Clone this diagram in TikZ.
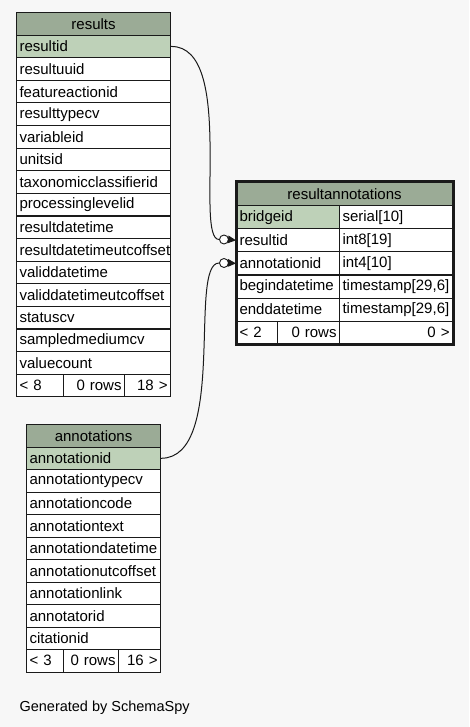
\documentclass[tikz,border=0pt]{standalone}
\usepackage{fontspec}
\setmainfont{Liberation Sans}
\usetikzlibrary{arrows.meta,fit}
\definecolor{scabeza}{HTML}{9BAB96}
\definecolor{sllave}{HTML}{BED1B8}
\definecolor{sfondo}{HTML}{F7F7F7}
\definecolor{slinea}{HTML}{1A1A1A}
\tikzset{
  celda/.style={rectangle, draw=slinea, fill=white, line width=1.1pt,
    anchor=north west, inner xsep=3pt, inner ysep=0pt, minimum height=22.6,
    align=left, font=\fontsize{15}{16}\selectfont},
  cabeza/.style={celda, fill=scabeza, align=center},
  llave/.style={celda, fill=sllave},
  pie/.style={celda, align=right},
  circulo/.style={circle, draw=slinea, fill=white, line width=0.9pt,
    minimum size=9, inner sep=0pt},
  conector/.style={draw=slinea, line width=1pt},
  punta/.style={-{Triangle[length=8pt,width=7.5pt]}, draw=slinea, line width=1pt},
}
\begin{document}
\begin{tikzpicture}[x=1pt,y=-1pt]
  \fill[sfondo] (0,0) rectangle (469,727);
  \useasboundingbox (0,0) rectangle (469,727);
  % results
  \node[cabeza, text width=148] (res-h) at (16,12) {results};
  \node[llave, text width=148] (res-1) at (16,34.6) {resultid};
  \foreach \nom [count=\i from 2] in {resultuuid, featureactionid, resulttypecv,
      variableid, unitsid, taxonomicclassifierid, processinglevelid, resultdatetime,
      resultdatetimeutcoffset, validdatetime, validdatetimeutcoffset, statuscv,
      sampledmediumcv, valuecount}
    \node[celda, text width=148] (res-\i) at (16,{12+22.6*\i}) {\nom};
  \node[celda, text width=41] (res-f1) at (16,373.6) {< 8};
  \node[pie, text width=55] (res-f2) at (63,373.6) {0 rows};
  \node[pie, text width=40] (res-f3) at (124,373.6) {18 >};
  % resultannotations
  \node[cabeza, text width=210, minimum height=23.1] (ra-h) at (236,182) {resultannotations};
  \node[llave, text width=97, minimum height=23.1] (ra-1) at (236,205.1) {bridgeid};
  \node[celda, text width=107, minimum height=23.1] (rt-1) at (339,205.1) {serial[10]};
  \foreach \nom/\tipo [count=\i from 2] in {resultid/int8[19], annotationid/int4[10],
      begindatetime/{timestamp[29,6]}, enddatetime/{timestamp[29,6]}} {
    \node[celda, text width=97, minimum height=23.1] (ra-\i) at (236,{182+23.1*\i}) {\nom};
    \node[celda, text width=107, minimum height=23.1] (rt-\i) at (339,{182+23.1*\i}) {\tipo};
  }
  \node[celda, text width=35, minimum height=23.1] (ra-f1) at (236,320.6) {< 2};
  \node[pie, text width=56, minimum height=23.1] (ra-f2) at (277,320.6) {0 rows};
  \node[pie, text width=107, minimum height=23.1] (ra-f3) at (339,320.6) {0 >};
  \node[draw=slinea, line width=3pt, inner sep=0pt, fit=(ra-h)(ra-f1)(ra-f3)] (ra) {};
  % annotations
  \node[cabeza, text width=128, minimum height=22.5] (an-h) at (26,424) {annotations};
  \node[llave, text width=128, minimum height=22.5] (an-1) at (26,446.5) {annotationid};
  \foreach \nom [count=\i from 2] in {annotationtypecv, annotationcode, annotationtext,
      annotationdatetime, annotationutcoffset, annotationlink, annotatorid, citationid}
    \node[celda, text width=128, minimum height=22.5] (an-\i) at (26,{424+22.5*\i}) {\nom};
  \node[celda, text width=31, minimum height=22.5] (an-f1) at (26,649) {< 3};
  \node[pie, text width=49, minimum height=22.5] (an-f2) at (63,649) {0 rows};
  \node[pie, text width=36, minimum height=22.5] (an-f3) at (118,649) {16 >};
  % relaciones
  \node[circulo] (oa) at (224,239.5) {};
  \node[circulo] (ob) at (224,263) {};
  \draw[conector] (res-1.east) .. controls (236,46) and (194,239.5) .. (oa.west);
  \draw[punta] (oa.east) -- (ra-2.west);
  \draw[conector] (an-1.east) .. controls (228,458) and (188,263) .. (ob.west);
  \draw[punta] (ob.east) -- (ra-3.west);
  \node[anchor=west, font=\fontsize{14.5}{16}\selectfont] (gen) at (16,708) {Generated by SchemaSpy};
\end{tikzpicture}
\end{document}
